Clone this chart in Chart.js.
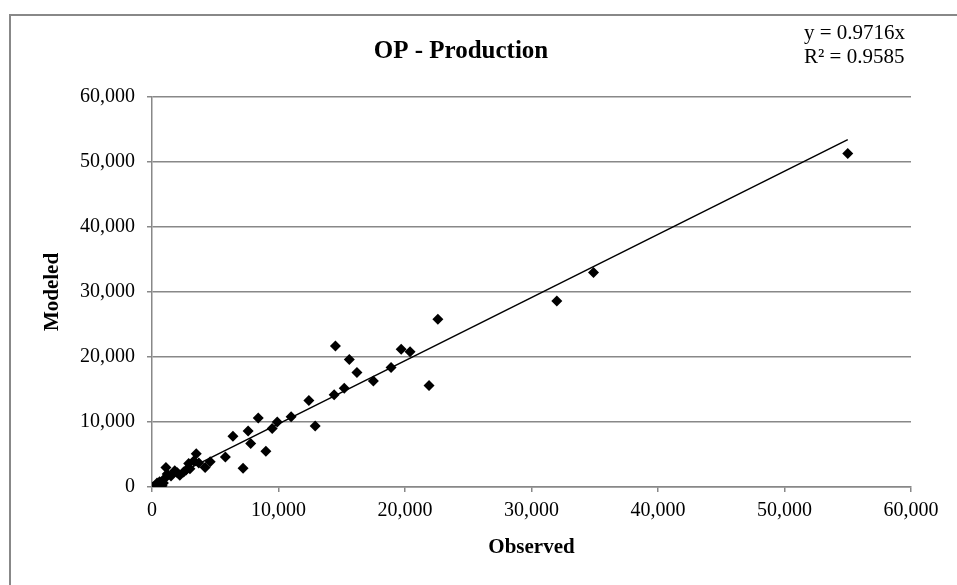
<!DOCTYPE html>
<html>
<head>
<meta charset="utf-8">
<script src="https://cdn.jsdelivr.net/npm/chart.js@4"></script>
<style>
  html, body { margin: 0; padding: 0; overflow: hidden; background: #fff; }
  #frame { position: absolute; left: 9px; top: 14px; border: 2px solid #888; }
  canvas { display: block; }
</style>
</head>
<body>
<div id="frame"><canvas id="chart" width="958" height="570"></canvas></div>
<script>
// observed vs modeled
const observed = [100, 250, 400, 500, 600, 700, 800, 900, 1000, 1100, 1200, 1500, 1800, 2000, 2200, 2500,
  2700, 2900, 3000, 3300, 3500, 3700, 4200, 4600, 5800, 6400, 7200, 7600, 7800, 8400, 9000, 9500, 9900,
  11000, 12400, 12900, 14400, 14500, 15200, 15600, 16200, 17500, 18900, 19700, 20400, 21900, 22600,
  32000, 34900, 55000];
const modeled = [50, 200, 600, 300, 800, 400, 200, 600, 1300, 3000, 2000, 1700, 2500, 2200, 1800, 2300,
  2600, 3600, 2800, 4000, 5100, 3700, 3000, 3900, 4600, 7800, 2900, 8600, 6700, 10600, 5500, 9000, 10000,
  10800, 13300, 9400, 14200, 21700, 15200, 19600, 17600, 16300, 18400, 21200, 20800, 15600, 25800,
  28600, 33000, 51300];
const slope = 0.9716;
const rSquared = 0.9585;
const axisTicks = [0, 10000, 20000, 30000, 40000, 50000, 60000];

const serif = 'Liberation Serif';
const gray = '#888';

const points = observed.map((x, i) => ({ x: x, y: modeled[i] }));
const maxObs = Math.max(...observed);
const trend = [{ x: 0, y: 0 }, { x: maxObs, y: slope * maxObs }];

const equationLabel = {
  id: 'equationLabel',
  afterDraw(chart) {
    const ctx = chart.ctx;
    ctx.save();
    ctx.fillStyle = '#000';
    ctx.font = '21px ' + serif;
    ctx.textAlign = 'left';
    ctx.textBaseline = 'middle';
    ctx.fillText('y = ' + slope + 'x', 793, 17);
    ctx.fillText('R² = ' + rSquared, 793, 41);
    ctx.restore();
  }
};

new Chart(document.getElementById('chart'), {
  type: 'scatter',
  data: {
    datasets: [
      {
        label: 'Modeled',
        data: points,
        pointStyle: 'rectRot',
        radius: 5.5,
        backgroundColor: '#000',
        borderColor: '#000',
        borderWidth: 0,
      },
      {
        type: 'line',
        label: 'Linear',
        data: trend,
        borderColor: '#000',
        borderWidth: 1.5,
        pointRadius: 0,
        fill: false,
      },
    ],
  },
  options: {
    responsive: false,
    animation: false,
    layout: { padding: { left: 0, right: 58, top: 0, bottom: 0 } },
    plugins: {
      legend: { display: false },
      tooltip: { enabled: false },
      title: {
        display: true,
        text: 'OP - Production',
        color: '#000',
        font: { family: serif, size: 25, weight: 'bold' },
        padding: { top: 21, bottom: 30 },
      },
    },
    scales: {
      x: {
        type: 'linear',
        min: 0,
        max: 60000,
        afterBuildTicks: (scale) => { scale.ticks = axisTicks.map(v => ({ value: v })); },
        afterFit: (scale) => { scale.height = 99; },
        grid: { drawOnChartArea: false, color: gray, lineWidth: 1.5, tickLength: 5 },
        border: { color: gray, width: 1.5 },
        ticks: {
          color: '#000',
          padding: 7,
          maxRotation: 0,
          font: { family: serif, size: 20 },
          callback: (v) => v.toLocaleString('en-US'),
        },
        title: {
          display: true,
          text: 'Observed',
          color: '#000',
          font: { family: serif, size: 21, weight: 'bold' },
          padding: { top: 0, bottom: 26 },
        },
      },
      y: {
        type: 'linear',
        min: 0,
        max: 60000,
        afterBuildTicks: (scale) => { scale.ticks = axisTicks.map(v => ({ value: v })); },
        afterFit: (scale) => { scale.width = 141; },
        grid: { color: gray, lineWidth: 1.5, tickLength: 5 },
        border: { color: gray, width: 1.5 },
        ticks: {
          color: '#000',
          padding: 12,
          font: { family: serif, size: 20 },
          callback: (v) => v.toLocaleString('en-US'),
        },
        title: {
          display: true,
          text: 'Modeled',
          color: '#000',
          font: { family: serif, size: 21, weight: 'bold' },
          padding: { top: 29, bottom: 0 },
        },
      },
    },
  },
  plugins: [equationLabel],
});
</script>
</body>
</html>
